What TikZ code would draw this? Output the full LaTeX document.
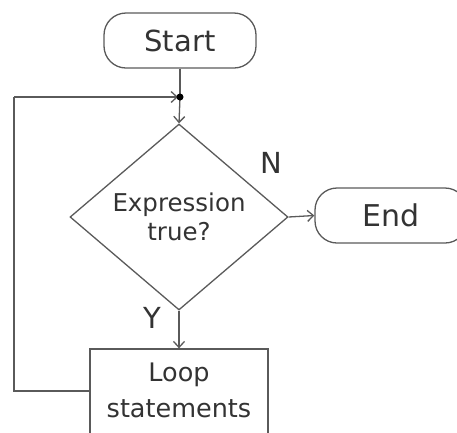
\documentclass[tikz,border=0pt]{standalone}
\usepackage{fontspec}
\setmainfont{DejaVu Sans}
\usetikzlibrary{arrows.meta,shapes.geometric,calc}
\definecolor{ln}{HTML}{5A5A5A}
\definecolor{tx}{HTML}{333333}
\begin{document}
\begin{tikzpicture}[x=1pt,y=-1pt,
  every node/.style={text=tx, inner sep=0pt},
  term/.style={draw=ln, line width=1.3pt, rounded corners=22pt, minimum width=152pt, minimum height=55pt},
  dec/.style={draw=ln, line width=1.3pt, diamond, minimum width=218pt, minimum height=186pt, aspect=1.17, font=\fontsize{24.5}{29}\selectfont, align=center},
  proc/.style={draw=ln, line width=1.3pt, minimum width=178pt, minimum height=100pt},
  lbl/.style={font=\fontsize{29}{30}\selectfont},
  conn/.style={draw=ln, line width=1.3pt},
  arr/.style={conn, -{Straight Barb[length=6pt,width=11pt]}}
]
\useasboundingbox (0,0) rectangle (457,432);
\node[term, font=\fontsize{29}{30}\selectfont] (start) at (180,40.5) {Start};
\node[dec] (cond) at (179,217) {Expression\\true?};
\node[term, font=\fontsize{30}{30}\selectfont] (end) at (391,215.5) {End};
\node[proc] (loop) at (179,399) {};
\node[font=\fontsize{25.5}{36}\selectfont, align=center] (looptxt) at (179,390) {Loop\\statements};
\coordinate (dot) at (180,97);
\coordinate (lb) at (14,391);
\coordinate (lt) at (14,97);
\draw[conn] (start.south) -- (dot);
\draw[arr] (dot) -- (cond.north);
\draw[arr] (cond.east) -- (end.west);
\draw[arr] (cond.south) -- (loop.north);
\draw[conn] (loop.west |- lb) -- (lb) -- (lt);
\draw[arr] (lt) -- ($(dot)+(-2,0)$);
\fill[black] (dot) circle (3.5pt);
\node[lbl] (n) at (271,163) {N};
\node[lbl] (y) at (152,318) {Y};
\end{tikzpicture}
\end{document}
